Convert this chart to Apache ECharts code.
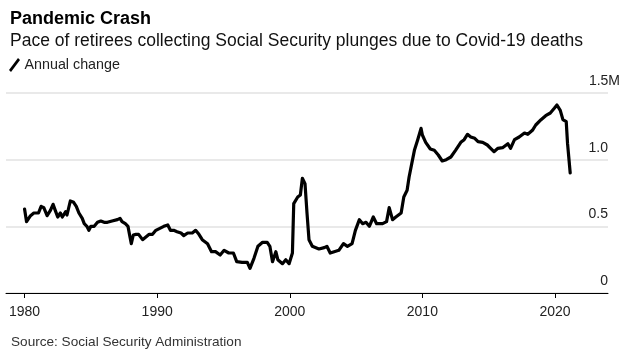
<!DOCTYPE html>
<html>
<head>
<meta charset="utf-8">
<script src="https://cdn.jsdelivr.net/npm/echarts@6/dist/echarts.min.js"></script>
<style>
html,body{margin:0;padding:0;background:#fff;}
#chart{width:640px;height:358px;}
</style>
</head>
<body>
<div id="chart"></div>
<script>
// decimal years
const dates = [
1980.0,1980.15,1980.45,1980.7,1981.05,1981.25,1981.45,1981.7,1981.95,1982.15,1982.35,1982.5,1982.7,1982.85,1983.1,1983.2,1983.45,1983.7,1983.9,1984.1,1984.35,1984.5,1984.7,1984.85,1985.0,1985.25,1985.5,1985.75,1986.0,1986.25,1986.6,1987.0,1987.2,1987.35,1987.6,1987.8,1987.95,1988.05,1988.2,1988.4,1988.6,1988.9,1989.15,1989.4,1989.65,1989.9,1990.2,1990.5,1990.8,1991.0,1991.25,1991.5,1991.8,1992.0,1992.3,1992.65,1992.9,1993.15,1993.4,1993.8,1994.1,1994.4,1994.75,1995.05,1995.4,1995.75,1996.0,1996.4,1996.8,1997.0,1997.3,1997.6,1997.95,1998.3,1998.5,1998.7,1998.85,1998.95,1999.1,1999.45,1999.7,1999.95,2000.2,2000.3,2000.6,2000.8,2000.95,2001.15,2001.3,2001.45,2001.7,2001.85,2002.2,2002.6,2002.8,2003.05,2003.35,2003.7,2004.05,2004.35,2004.7,2004.95,2005.25,2005.5,2005.75,2006.0,2006.3,2006.55,2007.0,2007.3,2007.5,2007.75,2008.0,2008.4,2008.6,2008.85,2009.0,2009.2,2009.4,2009.65,2009.9,2010.0,2010.25,2010.6,2010.9,2011.2,2011.5,2011.8,2012.15,2012.5,2012.9,2013.15,2013.4,2013.65,2013.95,2014.2,2014.55,2014.9,2015.15,2015.4,2015.7,2016.05,2016.45,2016.65,2016.95,2017.3,2017.7,2017.95,2018.3,2018.55,2018.95,2019.3,2019.65,2019.8,2019.95,2020.15,2020.4,2020.6,2020.85,2020.95,2021.15
];
// annual change, millions
const values = [
0.63,0.535,0.58,0.60,0.60,0.65,0.64,0.58,0.62,0.665,0.61,0.57,0.60,0.57,0.61,0.585,0.69,0.68,0.65,0.60,0.56,0.52,0.50,0.47,0.50,0.50,0.53,0.54,0.53,0.53,0.54,0.55,0.56,0.535,0.52,0.50,0.42,0.37,0.435,0.44,0.44,0.40,0.42,0.44,0.44,0.47,0.485,0.50,0.51,0.47,0.47,0.46,0.45,0.43,0.45,0.45,0.47,0.44,0.40,0.37,0.31,0.31,0.285,0.32,0.30,0.30,0.235,0.23,0.23,0.185,0.26,0.35,0.38,0.38,0.35,0.235,0.23,0.31,0.25,0.22,0.25,0.22,0.30,0.67,0.72,0.735,0.86,0.82,0.60,0.40,0.35,0.35,0.33,0.34,0.35,0.30,0.31,0.32,0.37,0.35,0.37,0.47,0.55,0.52,0.53,0.50,0.57,0.52,0.52,0.535,0.64,0.55,0.57,0.60,0.72,0.77,0.87,0.97,1.07,1.15,1.235,1.185,1.13,1.08,1.07,1.035,0.99,1.00,1.02,1.07,1.13,1.15,1.19,1.17,1.16,1.135,1.13,1.11,1.085,1.06,1.085,1.09,1.12,1.085,1.15,1.17,1.20,1.19,1.22,1.26,1.30,1.33,1.35,1.335,1.385,1.41,1.37,1.30,1.285,1.12,0.90
];
const xTicks = [1980, 1990, 2000, 2010, 2020];
const yTicks = [0, 0.5, 1.0, 1.5];
const yTickLabels = ['0', '0.5', '1.0', '1.5'];
const yUnit = 'M';

const FONT = '"Liberation Sans", Arial, sans-serif';
const chart = echarts.init(document.getElementById('chart'), null, {renderer: 'canvas'});
const seriesData = dates.map((d, i) => [d, values[i]]);

chart.setOption({
  animation: false,
  backgroundColor: '#fff',
  textStyle: {fontFamily: FONT},
  title: [
    {text: 'Pandemic Crash', left: 5, top: 5,
     textStyle: {fontFamily: FONT, fontSize: 18, fontWeight: 'bold', color: '#000'}},
    {text: 'Pace of retirees collecting Social Security plunges due to Covid-19 deaths', left: 5, top: 27,
     textStyle: {fontFamily: FONT, fontSize: 17.5, fontWeight: 'normal', color: '#111'}},
    {text: 'Source: Social Security Administration', left: 6, top: 330,
     textStyle: {fontFamily: FONT, fontSize: 13.6, fontWeight: 'normal', color: '#333'}}
  ],
  legend: {
    left: 4, top: 53,
    itemWidth: 14, itemHeight: 14, itemGap: 4,
    icon: 'path://M2,13 L11,1 L13,3 L4,15 Z',
    textStyle: {fontFamily: FONT, fontSize: 14.3, color: '#222', padding: [0,0,0,-2]},
    data: [{name: 'Annual change', itemStyle: {color: '#000'}}]
  },
  grid: {left: 6, right: 32, top: 93, bottom: 65, containLabel: false},
  xAxis: {
    type: 'value', min: 1978.6, max: 2024.0,
    axisLine: {show: true, lineStyle: {color: '#000', width: 1}},
    axisTick: {show: true, length: 5, customValues: xTicks, lineStyle: {color: '#000'}},
    axisLabel: {customValues: xTicks, fontFamily: FONT, fontSize: 14, color: '#222', margin: 12,
      formatter: v => String(v)},
    splitLine: {show: false}
  },
  yAxis: {
    type: 'value', position: 'right', min: 0, max: 1.5, interval: 0.5,
    axisLine: {show: false}, axisTick: {show: false},
    axisLabel: {inside: true, margin: -12, verticalAlign: 'bottom', align: 'right',
      padding: [0, 0, 5, 0], fontFamily: FONT, fontSize: 14, color: '#222',
      formatter: v => {
        const i = yTicks.findIndex(t => Math.abs(t - v) < 1e-9);
        if (i < 0) return '';
        return i === yTicks.length - 1 ? yTickLabels[i] + yUnit : yTickLabels[i] + '{s| }';
      },
      rich: {s: {fontFamily: FONT, fontSize: 14, width: 12}}
    },
    splitLine: {show: true, lineStyle: {color: '#e2e2e2', width: 1.5}}
  },
  series: [{
    name: 'Annual change', type: 'line', data: seriesData,
    showSymbol: false, symbol: 'none',
    lineStyle: {color: '#000', width: 3.2, join: 'round', cap: 'round'},
    itemStyle: {color: '#000'}
  }]
});
</script>
</body>
</html>
